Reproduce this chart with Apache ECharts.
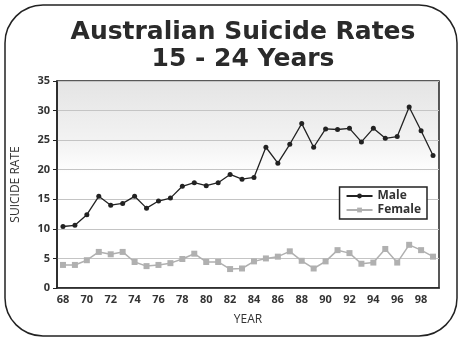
<!DOCTYPE html>
<html>
<head>
<meta charset="utf-8">
<script src="https://cdn.jsdelivr.net/npm/echarts@6/dist/echarts.min.js"></script>
<style>
  html, body { margin: 0; padding: 0; background: #fff; }
  #chart { width: 462px; height: 342px; }
</style>
</head>
<body>
<div id="chart"></div>
<script>
var years = ['68','69','70','71','72','73','74','75','76','77','78','79','80','81','82','83',
  '84','85','86','87','88','89','90','91','92','93','94','95','96','97','98','99'];
var male = [10.4, 10.6, 12.4, 15.5, 14.0, 14.3, 15.5, 13.5, 14.7, 15.2, 17.2, 17.8, 17.3, 17.8, 19.2, 18.4,
  18.7, 23.8, 21.1, 24.3, 27.8, 23.8, 26.9, 26.8, 27.0, 24.7, 27.0, 25.3, 25.6, 30.6, 26.6, 22.4];
var female = [3.9, 3.9, 4.7, 6.1, 5.7, 6.1, 4.4, 3.7, 3.9, 4.2, 4.9, 5.8, 4.4, 4.4, 3.2, 3.3,
  4.5, 5.0, 5.3, 6.2, 4.6, 3.3, 4.5, 6.4, 5.9, 4.1, 4.3, 6.6, 4.3, 7.3, 6.4, 5.3];

var chart = echarts.init(document.getElementById('chart'));

var option = {
  animation: false,
  backgroundColor: '#fff',
  textStyle: { fontFamily: 'Open Sans' },
  title: {
    text: 'Australian Suicide Rates\n15 - 24 Years',
    left: 238,
    textAlign: 'center',
    top: 14,
    textStyle: {
      fontFamily: 'DejaVu Sans',
      fontWeight: 'bold',
      fontSize: 25,
      lineHeight: 27,
      color: '#2a2a2a'
    }
  },
  graphic: [
    {
      type: 'rect',
      shape: { x: 5, y: 5, width: 452, height: 331, r: 38 },
      style: { fill: 'none', stroke: '#222', lineWidth: 1.5 },
      z: -1
    }
  ],
  legend: {
    right: 35,
    top: 187,
    orient: 'vertical',
    itemGap: 2,
    itemWidth: 26,
    itemHeight: 6,
    padding: [3, 6, 3, 6],
    borderColor: '#222',
    borderWidth: 1.5,
    backgroundColor: '#fff',
    textStyle: { fontSize: 12, fontWeight: 'bold', color: '#333' },
    data: ['Male', 'Female']
  },
  grid: {
    left: 57,
    right: 23,
    top: 81,
    bottom: 54,
    show: true,
    borderColor: '#222',
    borderWidth: 1.5,
    backgroundColor: new echarts.graphic.LinearGradient(0, 0, 0, 1, [
      { offset: 0, color: '#e4e4e4' },
      { offset: 0.3, color: '#f3f3f3' },
      { offset: 0.45, color: '#ffffff' },
      { offset: 1, color: '#ffffff' }
    ])
  },
  xAxis: {
    type: 'category',
    data: years,
    name: 'YEAR',
    nameLocation: 'middle',
    nameGap: 26,
    nameTextStyle: { fontSize: 12, color: '#333' },
    axisLine: { lineStyle: { color: '#222', width: 1.5 } },
    axisTick: { interval: 0, alignWithLabel: true, length: 4, lineStyle: { color: '#222' } },
    axisLabel: { interval: 1, fontSize: 11, fontWeight: 'bold', color: '#333', margin: 6 }
  },
  yAxis: {
    type: 'value',
    min: 0,
    max: 35,
    interval: 5,
    name: 'SUICIDE RATE',
    nameLocation: 'middle',
    nameGap: 35,
    nameTextStyle: { fontSize: 12, color: '#333' },
    axisLine: { show: true, lineStyle: { color: '#222', width: 1.5 } },
    axisTick: { show: true, length: 4, lineStyle: { color: '#222' } },
    axisLabel: { fontSize: 11, fontWeight: 'bold', color: '#333', margin: 7 },
    splitLine: { lineStyle: { color: '#c4c4c4', width: 1.2 } }
  },
  series: [
    {
      name: 'Male',
      type: 'line',
      data: male,
      symbol: 'circle',
      symbolSize: 5,
      lineStyle: { color: '#222', width: 1.3 },
      itemStyle: { color: '#222' }
    },
    {
      name: 'Female',
      type: 'line',
      data: female,
      symbol: 'rect',
      symbolSize: 6,
      lineStyle: { color: '#b0b0b0', width: 1.5 },
      itemStyle: { color: '#b0b0b0' }
    }
  ]
};

chart.setOption(option);
</script>
</body>
</html>
